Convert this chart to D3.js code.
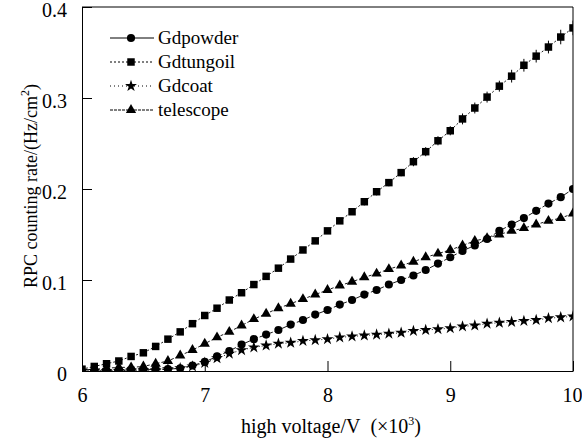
<!DOCTYPE html>
<html>
<head>
<meta charset="utf-8">
<script src="https://cdn.jsdelivr.net/npm/d3@7"></script>
<style>
  body { margin: 0; background: #fff; }
  svg text { font-family: "Liberation Serif", "DejaVu Serif", serif; fill: #000; }
  .axis line, .axis path { stroke: #000; }
</style>
</head>
<body>
<svg id="chart" width="582" height="439"></svg>
<script>
// high voltage in kV, 6.0 .. 10.0 in 0.1 steps
const voltage = [6.0, 6.1, 6.2, 6.3, 6.4, 6.5, 6.6, 6.7, 6.8, 6.9,
  7.0, 7.1, 7.2, 7.3, 7.4, 7.5, 7.6, 7.7, 7.8, 7.9,
  8.0, 8.1, 8.2, 8.3, 8.4, 8.5, 8.6, 8.7, 8.8, 8.9,
  9.0, 9.1, 9.2, 9.3, 9.4, 9.5, 9.6, 9.7, 9.8, 9.9, 10.0]

const gdpowder = [0.000, 0.000, 0.000, 0.001, 0.001, 0.001, 0.002, 0.002, 0.003, 0.006,
  0.010, 0.016, 0.022, 0.029, 0.035, 0.040, 0.045, 0.051, 0.056, 0.062,
  0.067, 0.073, 0.078, 0.084, 0.089, 0.095, 0.100, 0.105, 0.111, 0.118,
  0.125, 0.132, 0.138, 0.145, 0.154, 0.161, 0.168, 0.176, 0.184, 0.191, 0.200]

const gdtungoil = [0.002, 0.005, 0.008, 0.011, 0.016, 0.020, 0.027, 0.035, 0.043, 0.052,
  0.061, 0.069, 0.078, 0.086, 0.095, 0.104, 0.113, 0.123, 0.133, 0.143,
  0.154, 0.165, 0.175, 0.186, 0.197, 0.207, 0.218, 0.230, 0.241, 0.253,
  0.264, 0.277, 0.289, 0.301, 0.313, 0.324, 0.336, 0.346, 0.356, 0.367, 0.377]

const gdcoat = [0.000, 0.000, 0.000, 0.000, 0.001, 0.001, 0.001, 0.002, 0.003, 0.005,
  0.009, 0.014, 0.019, 0.023, 0.026, 0.028, 0.030, 0.031, 0.033, 0.034,
  0.035, 0.037, 0.038, 0.039, 0.040, 0.041, 0.042, 0.044, 0.045, 0.046,
  0.047, 0.049, 0.050, 0.052, 0.053, 0.054, 0.055, 0.056, 0.058, 0.059, 0.060]

const telescope = [0.001, 0.002, 0.003, 0.004, 0.004, 0.005, 0.008, 0.011, 0.017, 0.023,
  0.030, 0.037, 0.043, 0.050, 0.057, 0.063, 0.069, 0.074, 0.079, 0.084,
  0.089, 0.094, 0.098, 0.103, 0.107, 0.112, 0.116, 0.120, 0.125, 0.129,
  0.133, 0.138, 0.143, 0.146, 0.150, 0.154, 0.157, 0.161, 0.165, 0.168, 0.173]

// statistical errors (visible only at the upper end)
const errTungoil = [0.000, 0.000, 0.000, 0.000, 0.000, 0.001, 0.001, 0.001, 0.001, 0.001,
  0.001, 0.001, 0.002, 0.002, 0.002, 0.002, 0.002, 0.002, 0.003, 0.003,
  0.003, 0.003, 0.003, 0.004, 0.004, 0.004, 0.004, 0.005, 0.005, 0.005,
  0.005, 0.006, 0.006, 0.006, 0.006, 0.007, 0.007, 0.007, 0.007, 0.008, 0.008]

const seriesNames = ['Gdpowder', 'Gdtungoil', 'Gdcoat', 'telescope']
const xTicks = [6, 7, 8, 9, 10]
const yTicks = [0, 0.1, 0.2, 0.3, 0.4]
const yTickLabels = ['0', '0.1', '0.2', '0.3', '0.4']

const series = [
  { name: seriesNames[0], values: gdpowder, symbol: d3.symbolCircle, size: 52, dash: '6,2', legendDash: null },
  { name: seriesNames[1], values: gdtungoil, symbol: d3.symbolSquare, size: 56, dash: '2,2', legendDash: '2,2', err: errTungoil },
  { name: seriesNames[2], values: gdcoat, symbol: d3.symbolStar, size: 44, dash: '1,2', legendDash: '1,3' },
  { name: seriesNames[3], values: telescope, symbol: d3.symbolTriangle, size: 46, dash: '3,2', legendDash: '3,1' }
]

const margin = { left: 82, top: 7, right: 9, bottom: 68 }
const width = 582 - margin.left - margin.right
const height = 439 - margin.top - margin.bottom

const svg = d3.select('#chart')
const g = svg.append('g').attr('transform', `translate(${margin.left},${margin.top})`)

const x = d3.scaleLinear().domain([6, 10]).range([0, width])
const y = d3.scaleLinear().domain([0, 0.4]).range([height, 0])

svg.append('defs').append('clipPath').attr('id', 'plotclip')
  .append('rect').attr('width', width).attr('height', height)

/* axes with inward ticks */
g.append('g').attr('class', 'axis')
  .attr('transform', `translate(0,${height})`)
  .call(d3.axisBottom(x).tickValues(xTicks).tickFormat(d3.format('d'))
    .tickSizeInner(-10).tickSizeOuter(0).tickPadding(17))
  .attr('font-family', null).attr('font-size', 20)
  .selectAll('text').attr('dx', d => d === 10 ? '-0.05em' : null)

g.append('g').attr('class', 'axis')
  .call(d3.axisLeft(y).tickValues(yTicks).tickFormat((d, i) => yTickLabels[i])
    .tickSizeInner(-10).tickSizeOuter(0).tickPadding(15))
  .attr('font-family', null).attr('font-size', 20)
  .selectAll('text').attr('dy', '0.45em')

/* frame: top and right */
g.append('line').attr('x1', 0).attr('x2', width).attr('y1', 0).attr('y2', 0).attr('stroke', '#000')
g.append('line').attr('x1', width).attr('x2', width).attr('y1', 0).attr('y2', height).attr('stroke', '#000')

/* data */
const plot = g.append('g').attr('clip-path', 'url(#plotclip)')
const line = d3.line().x((d, i) => x(voltage[i])).y(d => y(d))

for (const s of series) {
  plot.append('path')
    .attr('d', line(s.values))
    .attr('fill', 'none')
    .attr('stroke', '#000')
    .attr('stroke-width', 0.9)
    .attr('stroke-dasharray', s.dash)

  if (s.err) {
    plot.selectAll(null).data(s.values).enter().append('line')
      .attr('x1', (d, i) => x(voltage[i]))
      .attr('x2', (d, i) => x(voltage[i]))
      .attr('y1', (d, i) => y(d - s.err[i]))
      .attr('y2', (d, i) => y(d + s.err[i]))
      .attr('stroke', '#000')
      .attr('stroke-width', 1)
  }

  plot.selectAll(null).data(s.values).enter().append('path')
    .attr('d', d3.symbol().type(s.symbol).size(s.size))
    .attr('transform', (d, i) => `translate(${x(voltage[i])},${y(d)})`)
    .attr('fill', '#000')
}

/* legend */
const legend = svg.append('g').attr('transform', 'translate(110,38)')
series.forEach((s, i) => {
  const row = legend.append('g').attr('transform', `translate(0,${i * 24})`)
  row.append('line').attr('x1', 0).attr('x2', 44).attr('y1', 0).attr('y2', 0)
    .attr('stroke', '#000').attr('stroke-width', 1)
    .attr('stroke-dasharray', s.legendDash)
  row.append('path')
    .attr('d', d3.symbol().type(s.symbol).size(s.size))
    .attr('transform', 'translate(21,0)')
    .attr('fill', '#000')
  row.append('text').attr('x', 48).attr('dy', '0.33em')
    .attr('font-size', 19).text(s.name)
})

/* axis titles */
const xTitle = svg.append('text')
  .attr('x', 331).attr('y', 433)
  .attr('text-anchor', 'middle').attr('font-size', 20)
xTitle.append('tspan').text('high voltage/V\u00a0\u00a0(×10')
xTitle.append('tspan').attr('font-size', 12).attr('dy', -8).text('3')
xTitle.append('tspan').attr('dy', 8).text(')')

const yTitle = svg.append('text')
  .attr('transform', 'translate(37,186) rotate(-90)')
  .attr('text-anchor', 'middle').attr('font-size', 18)
yTitle.append('tspan').text('RPC counting rate/(Hz/cm')
yTitle.append('tspan').attr('font-size', 12).attr('dy', -8).text('2')
yTitle.append('tspan').attr('dy', 8).text(')')
</script>
</body>
</html>
